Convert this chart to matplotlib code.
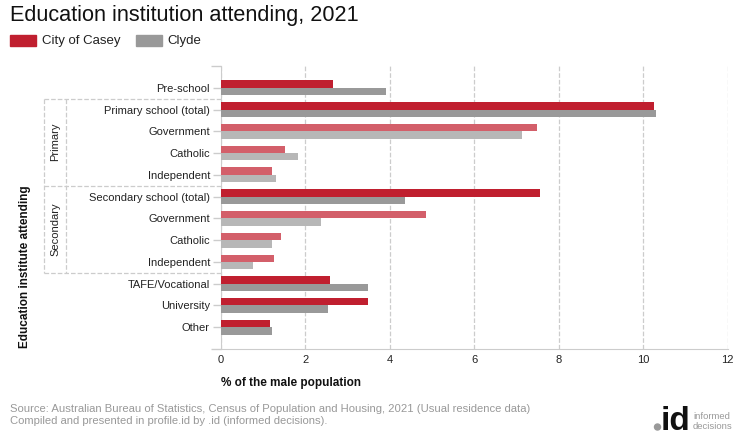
import matplotlib.pyplot as plt
import matplotlib.transforms as mtransforms
from matplotlib.patches import Ellipse
import numpy as np

plt.rcParams['font.family'] = ['Liberation Sans', 'DejaVu Sans']

# data
categories = ['Pre-school', 'Primary school (total)', 'Government', 'Catholic', 'Independent',
              'Secondary school (total)', 'Government', 'Catholic', 'Independent',
              'TAFE/Vocational', 'University', 'Other']
casey = [2.65, 10.25, 7.49, 1.52, 1.21, 7.56, 4.86, 1.43, 1.26, 2.59, 3.49, 1.17]
clyde = [3.92, 10.31, 7.14, 1.83, 1.31, 4.37, 2.37, 1.21, 0.76, 3.49, 2.54, 1.21]
sub_rows = [2, 3, 4, 6, 7, 8]  # lighter shaded rows

red, red_light = '#C01F2F', '#D35F6A'
grey, grey_light = '#999999', '#B7B7B7'

fig = plt.figure(figsize=(7.4, 4.4), dpi=100)
ax = fig.add_axes([221/740, 1 - 349/440, 506.5/740, 283/440])

y = np.arange(len(categories))
h = 0.34
c1 = [red_light if i in sub_rows else red for i in y]
c2 = [grey_light if i in sub_rows else grey for i in y]
ax.barh(y - h/2, casey, height=h, color=c1, zorder=3)
ax.barh(y + h/2, clyde, height=h, color=c2, zorder=3)

ax.set_xlim(0, 12)
ax.set_ylim(12, -1)
ax.set_xticks(np.arange(0, 13, 2))
ax.set_yticks(y)
ax.set_yticks([-1, 12], minor=True)
ax.set_yticklabels(categories)
ax.tick_params(axis='both', labelsize=8, colors='#cccccc', labelcolor='#222222', length=6, width=1)
ax.tick_params(axis='y', pad=2)
ax.tick_params(axis='y', which='minor', length=7, width=1, colors='#cccccc')
ax.tick_params(axis='x', length=0, pad=4)
ax.grid(axis='x', color='#cccccc', linestyle='--', linewidth=0.9, zorder=0)
for s in ['top', 'right']:
    ax.spines[s].set_visible(False)
for s in ['left', 'bottom']:
    ax.spines[s].set_color('#cccccc')

# group boxes
tr = mtransforms.blended_transform_factory(ax.transAxes, ax.transData)
x_out, x_in = (44 - 221) / 506.5, (66 - 221) / 506.5
box = dict(color='#cccccc', linestyle='--', linewidth=0.9, transform=tr, clip_on=False)
for yy in [0.5, 4.5, 8.5]:
    ax.plot([x_out, 0], [yy, yy], **box)
for xx in [x_out, x_in]:
    ax.plot([xx, xx], [0.5, 8.5], **box)
ax.text((x_out + x_in) / 2, 2.5, 'Primary', rotation=90, ha='center', va='center',
        fontsize=8, color='#222222', transform=tr)
ax.text((x_out + x_in) / 2, 6.5, 'Secondary', rotation=90, ha='center', va='center',
        fontsize=8, color='#222222', transform=tr)

# titles and labels
fig.text(10/740, 1 - 15/440, 'Education institution attending, 2021', fontsize=15.6,
         va='center', ha='left', color='#111111')
fig.patches.append(plt.Rectangle((10/740, 1 - 46/440), 26/740, 11/440, color=red,
                                 transform=fig.transFigure))
fig.text(42/740, 1 - 41/440, 'City of Casey', fontsize=9.5, va='center', color='#222222')
fig.patches.append(plt.Rectangle((136/740, 1 - 46/440), 26/740, 11/440, color=grey,
                                 transform=fig.transFigure))
fig.text(167/740, 1 - 41/440, 'Clyde', fontsize=9.5, va='center', color='#222222')

fig.text(25/740, 1 - 348/440, 'Education institute attending', rotation=90, fontsize=8.5,
         fontweight='bold', ha='center', va='bottom', color='#111111')
fig.text(221/740, 1 - 383/440, '% of the male population', fontsize=8.5, fontweight='bold',
         ha='left', va='center', color='#111111')

fig.text(10/740, 1 - 409/440,
         'Source: Australian Bureau of Statistics, Census of Population and Housing, 2021 (Usual residence data)',
         fontsize=8.15, color='#999999', va='center')
fig.text(10/740, 1 - 421/440, 'Compiled and presented in profile.id by .id (informed decisions).',
         fontsize=8.15, color='#999999', va='center')

# logo
fig.patches.append(Ellipse((657.5/740, 1 - 427/440), 6/740, 6/440, color='#999999',
                           transform=fig.transFigure))
fig.text(661/740, 1 - 430/440, 'id', fontsize=24, fontweight='bold', color='#111111', va='baseline')
fig.text(693/740, 1 - 416/440, 'informed', fontsize=6.8, color='#999999', va='center')
fig.text(693/740, 1 - 426/440, 'decisions', fontsize=6.8, color='#999999', va='center')

fig.savefig('out.png', dpi=100)
